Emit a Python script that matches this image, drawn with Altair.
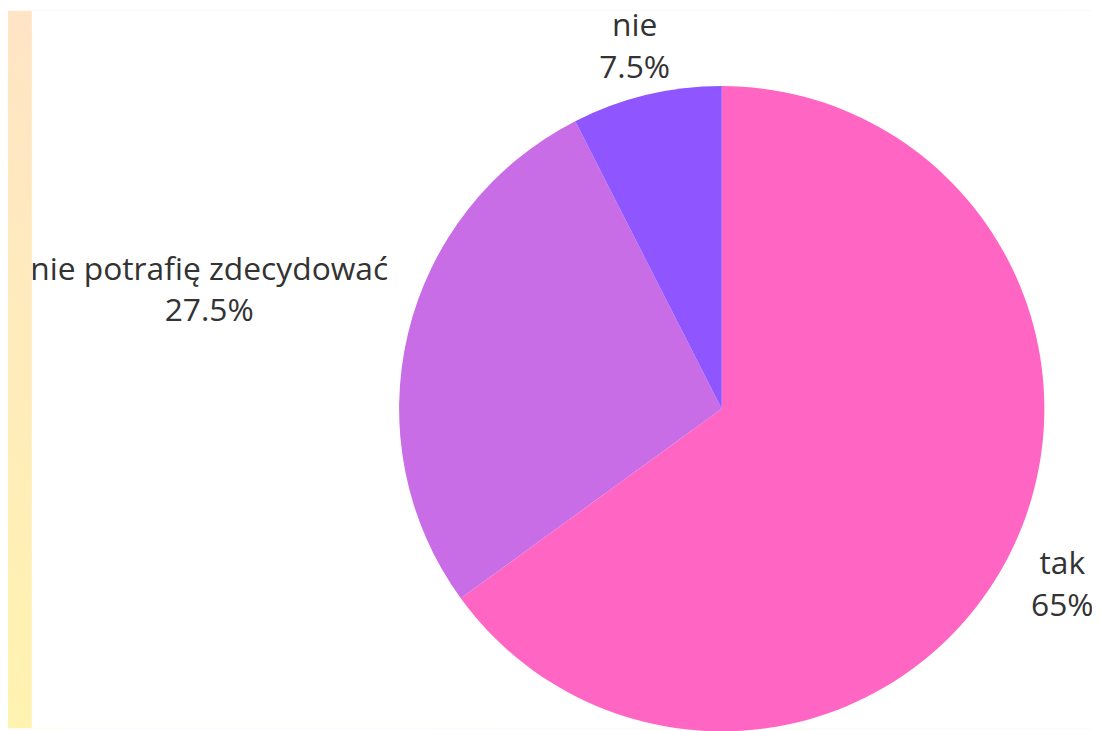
import altair as alt
import pandas as pd

categories = ["tak", "nie potrafię zdecydować", "nie"]
values = [65, 27.5, 7.5]
pct_labels = ["65%", "27.5%", "7.5%"]
colors = ["#FF66C4", "#C86DE6", "#8F55FF"]

W, H = 1092, 723
CX, CY = 719, 401

df = pd.DataFrame({
    "category": categories,
    "value": values,
    "order": list(range(len(categories))),
    "label": [f"{c}\n{p}" for c, p in zip(categories, pct_labels)],
})

one = pd.DataFrame({"k": [0]})

bg = alt.Chart(one).mark_rect(
    fill=alt.Gradient(
        gradient="linear",
        stops=[alt.GradientStop(color="#FFF3B0", offset=0),
               alt.GradientStop(color="#FFD6DA", offset=1)],
        x1=0, y1=1, x2=1, y2=0,
    )
).encode(x=alt.value(0), x2=alt.value(W), y=alt.value(0), y2=alt.value(H))

panel = alt.Chart(one).mark_rect(fill="#FFFFFF").encode(
    x=alt.value(24), x2=alt.value(W), y=alt.value(0), y2=alt.value(H)
)

theta_scale = alt.Scale(domain=[0, 100])

arcs = alt.Chart(df).mark_arc(radius=325).encode(
    theta=alt.Theta("value:Q", stack=True, scale=theta_scale),
    order=alt.Order("order:Q"),
    color=alt.Color("category:N",
                    scale=alt.Scale(domain=categories, range=colors),
                    legend=None),
    x=alt.value(CX),
    y=alt.value(CY),
)

tbase = alt.Chart(df).transform_window(
    cum="sum(value)", sort=[alt.SortField("order")], frame=[None, 0]
).transform_calculate(
    mid="datum.cum - datum.value / 2"
).encode(
    theta=alt.Theta("mid:Q", stack=None, scale=theta_scale),
    text="label:N",
    x=alt.value(CX),
    y=alt.value(CY),
)

text_style = dict(font="Open Sans", fontSize=32, color="#333333",
                  lineBreak="\n", lineHeight=42, baseline="middle",
                  align="center")

def label_layer(cat, r, dy):
    return tbase.mark_text(radius=r, dy=dy, **text_style).transform_filter(
        alt.datum.category == cat
    )

labels = [
    label_layer("tak", 385, -18),
    label_layer("nie", 376, -20),
    label_layer("nie potrafię zdecydować", 531, -16),
]

chart = alt.layer(bg, panel, arcs, *labels).properties(
    width=W, height=H,
    autosize=alt.AutoSizeParams(type="none"),
    padding=0,
).configure_view(stroke=None)

chart.save("out.html", embed_options={"renderer": "svg", "actions": False})
